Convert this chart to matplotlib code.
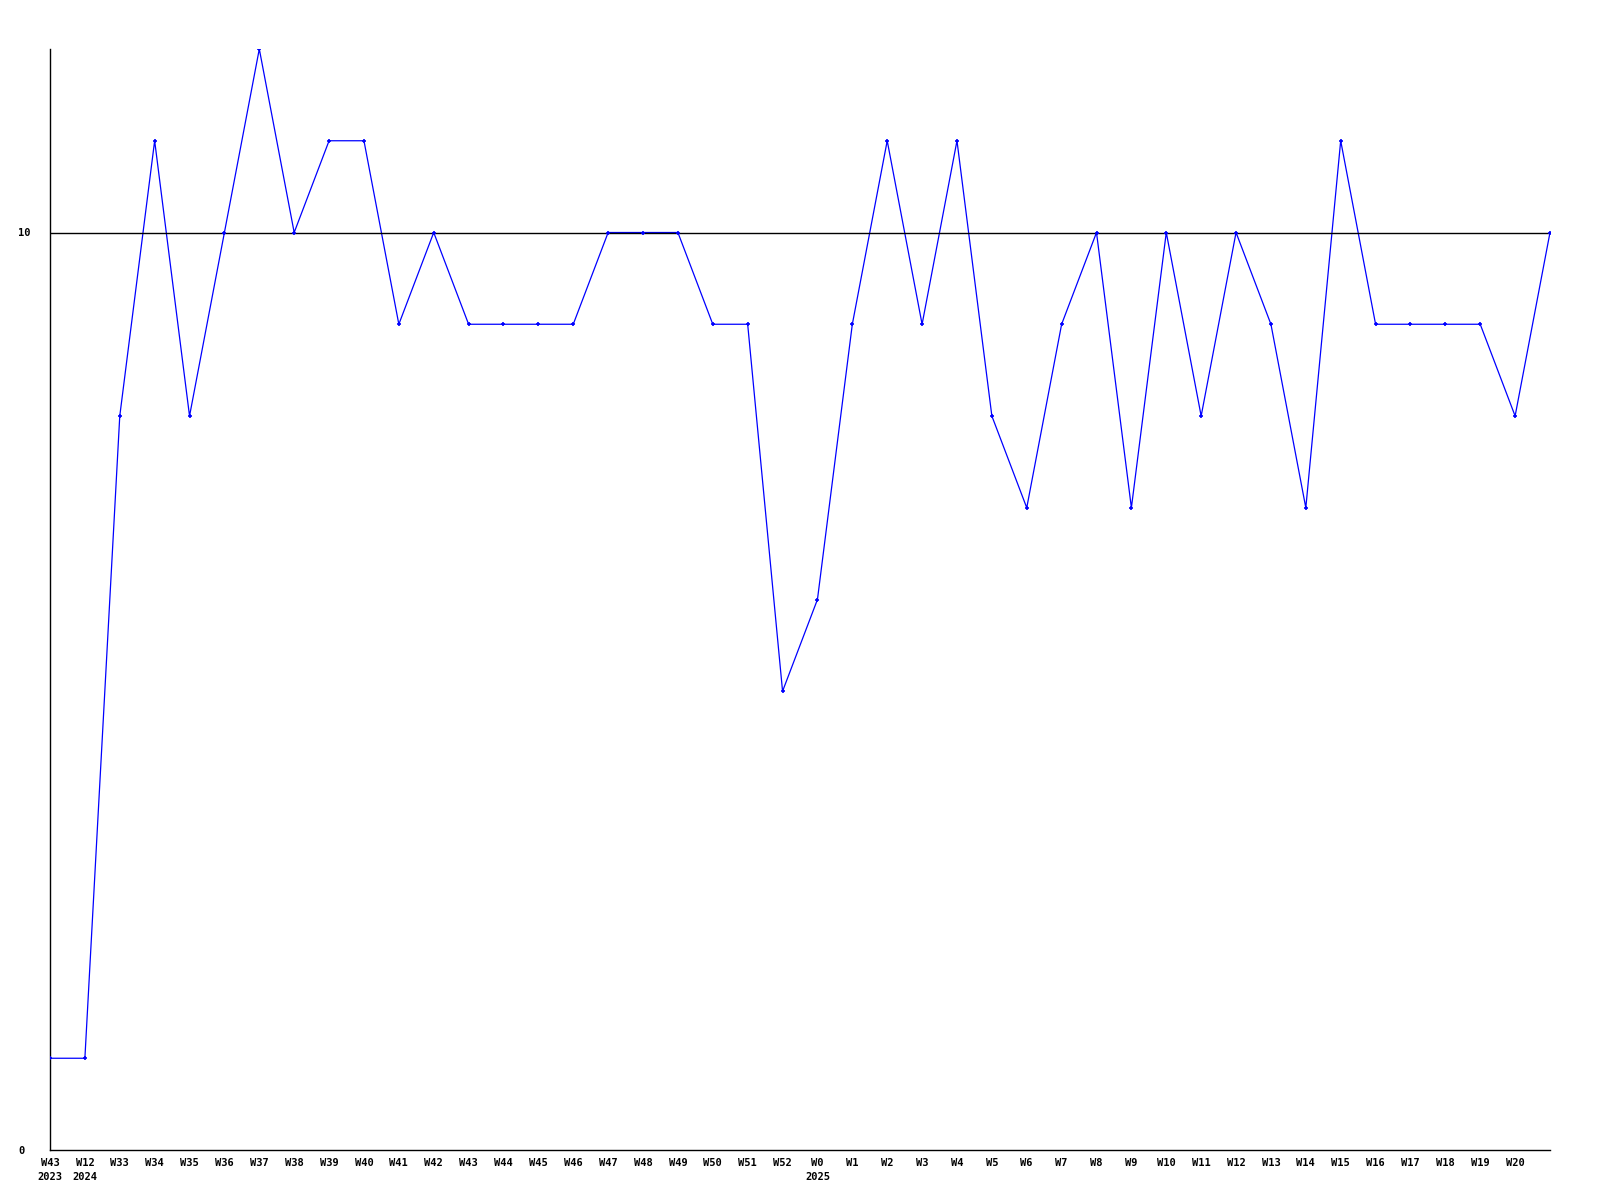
import matplotlib
matplotlib.use("Agg")
import matplotlib.pyplot as plt
import numpy as np

weeks = ["W43", "W12", "W33", "W34", "W35", "W36", "W37", "W38", "W39", "W40",
         "W41", "W42", "W43", "W44", "W45", "W46", "W47", "W48", "W49", "W50",
         "W51", "W52", "W0", "W1", "W2", "W3", "W4", "W5", "W6", "W7",
         "W8", "W9", "W10", "W11", "W12", "W13", "W14", "W15", "W16", "W17",
         "W18", "W19", "W20", ""]
years = {0: "2023", 1: "2024", 22: "2025"}
values = [1, 1, 8, 11, 8, 10, 12, 10, 11, 11,
          9, 10, 9, 9, 9, 9, 10, 10, 10, 9,
          9, 5, 6, 9, 11, 9, 11, 8, 7, 9,
          10, 7, 10, 8, 10, 9, 7, 11, 9, 9,
          9, 9, 8, 10]

plt.rcParams['font.family'] = ['DejaVu Sans Mono']
plt.rcParams['font.weight'] = 'bold'

fig = plt.figure(figsize=(16, 12), dpi=100)
ax = fig.add_axes([50/1600, 1 - 1150/1200, 1500/1600, 1101/1200])

x = np.arange(len(values))
# line first, then the reference line at 10 on top, then the point markers
ax.plot(x, values, color='blue', lw=0.9, zorder=2)
ax.axhline(10, color='black', lw=1.0, zorder=3)
ax.plot(x, values, ls='none', color='blue', marker='+', markersize=3.5, mew=1.2, zorder=4)

labels = []
for i, w in enumerate(weeks):
    if i in years:
        labels.append(w + "\n" + years[i])
    else:
        labels.append(w)
ax.set_xticks(x)
ax.set_xticklabels(labels, fontsize=7.5, fontweight='bold', linespacing=1.4)
ax.set_yticks([0, 10])
ax.set_yticklabels(["0", "10"], fontsize=7.5, fontweight='bold', ha='left')
ax.tick_params(length=0, pad=6)
ax.tick_params(axis='y', pad=23)

ax.set_xlim(0, len(values) - 1)
ax.set_ylim(0, 12)
ax.spines['top'].set_visible(False)
ax.spines['right'].set_visible(False)
for s in ['left', 'bottom']:
    ax.spines[s].set_linewidth(1.0)

fig.savefig("out.png", dpi=100, facecolor='white')
